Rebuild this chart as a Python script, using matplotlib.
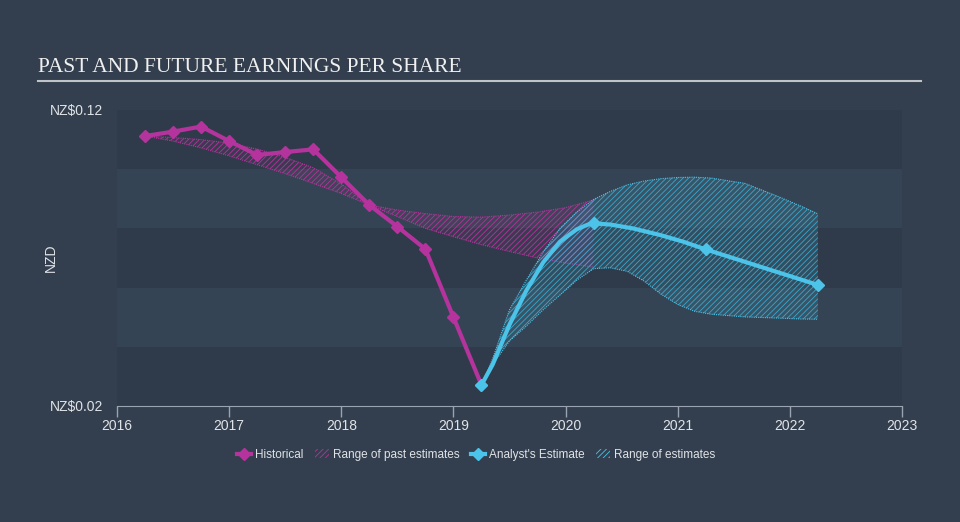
import numpy as np
import matplotlib
matplotlib.use("Agg")
import matplotlib.pyplot as plt
from matplotlib.lines import Line2D
from matplotlib.patches import Patch

# --------------------------------------------------------------------------- #
# Data
# --------------------------------------------------------------------------- #
hist_x = [2016.25, 2016.5, 2016.75, 2017.0, 2017.25, 2017.5, 2017.75,
          2018.0, 2018.25, 2018.5, 2018.75, 2019.0, 2019.25]
hist_y = [0.1112, 0.1127, 0.1144, 0.1095, 0.1048, 0.1058, 0.1067,
          0.0973, 0.0879, 0.0806, 0.0730, 0.0500, 0.0271]

# past estimate range (two edges, they cross around 2018.25)
past_x = [2016.25, 2016.5, 2016.75, 2017.0, 2017.25, 2017.5, 2017.75, 2018.0,
          2018.25, 2018.5, 2018.75, 2019.0, 2019.25, 2019.5, 2019.75, 2020.0, 2020.25]
past_a = [0.1112, 0.1107, 0.1100, 0.1088, 0.1068, 0.1040, 0.1005, 0.0950,
          0.0879, 0.0862, 0.0850, 0.0840, 0.0838, 0.0845, 0.0855, 0.0870, 0.0896]
past_b = [0.1112, 0.1095, 0.1072, 0.1045, 0.1015, 0.0985, 0.0952, 0.0918,
          0.0879, 0.0840, 0.0800, 0.0772, 0.0745, 0.0722, 0.0700, 0.0683, 0.0669]

# analyst estimate line (markers only at the annual estimates)
est_x = [2019.25, 2019.35, 2019.5, 2019.65, 2019.8, 2019.95, 2020.1, 2020.2,
         2020.25, 2020.4, 2020.6, 2020.84, 2021.05, 2021.25, 2022.25]
est_y = [0.0271, 0.0340, 0.0475, 0.0590, 0.0685, 0.0755, 0.0797, 0.0813,
         0.0817, 0.0813, 0.0800, 0.0778, 0.0755, 0.0729, 0.0609]
est_marks = [0, 8, 13, 14]

# range of estimates
rng_x = [2019.25, 2019.35, 2019.5, 2019.65, 2019.8, 2019.95, 2020.1, 2020.25,
         2020.4, 2020.55, 2020.7, 2020.85, 2021.0, 2021.15, 2021.3, 2021.6,
         2021.9, 2022.1, 2022.25]
rng_hi = [0.0271, 0.0360, 0.0525, 0.0625, 0.0720, 0.0800, 0.0855, 0.0898,
          0.0925, 0.0947, 0.0960, 0.0968, 0.0972, 0.0973, 0.0970, 0.0952,
          0.0907, 0.0875, 0.0849]
rng_lo = [0.0271, 0.0340, 0.0420, 0.0470, 0.0525, 0.0575, 0.0625, 0.0664,
          0.0667, 0.0655, 0.0622, 0.0578, 0.0543, 0.0520, 0.0510, 0.0501,
          0.0497, 0.0494, 0.0493]

years = [2016, 2017, 2018, 2019, 2020, 2021, 2022, 2023]

# --------------------------------------------------------------------------- #
# Style
# --------------------------------------------------------------------------- #
BG      = "#333f4e"
BAND_D  = "#2f3b4a"
BAND_L  = "#354454"
MAGENTA = "#b5339c"
CYAN    = "#4cc3e8"
CYAN_H  = "#3aa6cb"
TXT     = "#e0e3e7"

plt.rcParams["font.family"] = ["Liberation Sans", "DejaVu Sans"]
plt.rcParams["hatch.linewidth"] = 0.6

fig = plt.figure(figsize=(9.6, 5.22), dpi=100, facecolor=BG)
ax = fig.add_axes([117 / 960, 1 - 406 / 522, 785 / 960, 296 / 522])
ax.set_facecolor(BG)

# alternating horizontal bands
for i, lo in enumerate(np.arange(0.02, 0.12, 0.02)):
    ax.axhspan(lo, lo + 0.02, color=BAND_D if i % 2 == 0 else BAND_L, lw=0, zorder=0)

# past estimates range
ax.fill_between(past_x, past_a, past_b, facecolor=(0.71, 0.2, 0.61, 0.10),
                edgecolor=MAGENTA, hatch="//////", linewidth=0, zorder=1)
ax.plot(past_x, past_a, color=MAGENTA, lw=0.8, ls=(0, (1, 1)), zorder=1)
ax.plot(past_x, past_b, color=MAGENTA, lw=0.8, ls=(0, (1, 1)), zorder=1)

# range of estimates
ax.fill_between(rng_x, rng_hi, rng_lo, facecolor=(0.3, 0.76, 0.91, 0.14),
                edgecolor=CYAN_H, hatch="//////", linewidth=0, zorder=2)
ax.plot(rng_x, rng_hi, color=CYAN, lw=0.8, ls=(0, (1, 1)), zorder=2)
ax.plot(rng_x, rng_lo, color=CYAN, lw=0.8, ls=(0, (1, 1)), zorder=2)

# lines
ax.plot(hist_x, hist_y, color=MAGENTA, lw=3, marker="D", ms=6, zorder=4)
ax.plot(est_x, est_y, color=CYAN, lw=3, marker="D", ms=6, markevery=est_marks, zorder=5)

# axes
ax.set_xlim(2016, 2023)
ax.set_ylim(0.02, 0.12)
ax.set_xticks(years)
ax.set_xticklabels([str(y) for y in years], fontsize=10, color=TXT)
ax.set_yticks([0.02, 0.12])
ax.set_yticklabels(["NZ$0.02", "NZ$0.12"], fontsize=10, color=TXT)
ax.tick_params(axis="x", length=8, width=1, color="#9aa4b0", pad=1)
ax.tick_params(axis="y", length=0, pad=10)
for side in ["top", "right", "left"]:
    ax.spines[side].set_visible(False)
ax.spines["bottom"].set_color("#9aa4b0")
ax.set_ylabel("NZD", color=TXT, fontsize=10)
ax.yaxis.set_label_coords((58 - 117) / 785, 0.5)

# title + underline
fig.text(38 / 960, 1 - 67 / 522, "PAST AND FUTURE EARNINGS PER SHARE",
         family="Liberation Serif", fontsize=15.5, color="#f0f0f0", va="center")
fig.add_artist(Line2D([38 / 960, 921 / 960], [1 - 81 / 522, 1 - 81 / 522],
                      color="#c0c4c8", lw=1.5))

# legend
handles = [
    Line2D([], [], color=MAGENTA, lw=3, marker="D", ms=6),
    Patch(facecolor="none", edgecolor=MAGENTA, hatch="//////", lw=0),
    Line2D([], [], color=CYAN, lw=3, marker="D", ms=6),
    Patch(facecolor="none", edgecolor=CYAN, hatch="//////", lw=0),
]
labels = ["Historical", "Range of past estimates", "Analyst's Estimate", "Range of estimates"]
leg = fig.legend(handles, labels, loc="center", bbox_to_anchor=(476 / 960, 1 - 455 / 522),
                 ncol=4, frameon=False, fontsize=8.5, labelcolor=TXT,
                 handlelength=1.2, handleheight=0.8, handletextpad=0.3,
                 columnspacing=1.0)

fig.savefig("out.png", dpi=100, facecolor=BG)
